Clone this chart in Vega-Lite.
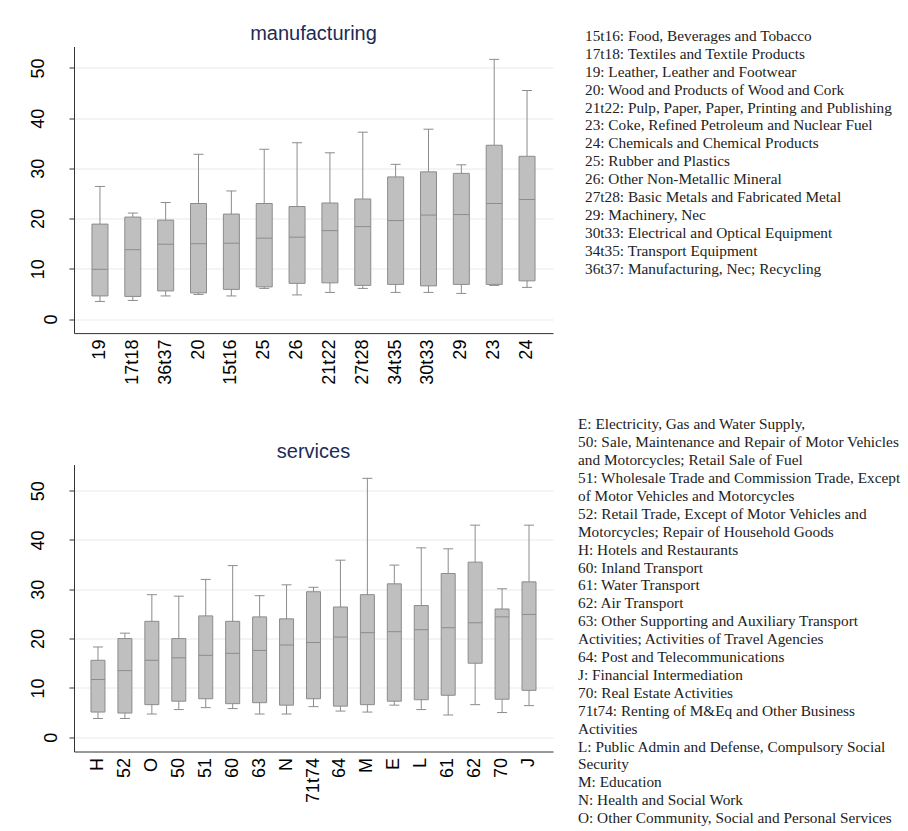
{
  "$schema": "https://vega.github.io/schema/vega-lite/v6.json",
  "background": "white",
  "padding": {"left": 28, "top": 23.5, "right": 0, "bottom": 0},
  "config": {
    "view": {"stroke": null},
    "font": "Liberation Sans",
    "axis": {"labelFont": "Liberation Sans", "labelColor": "#000000", "domainColor": "#333333", "tickColor": "#333333", "gridColor": "#e3ebee", "labelFontSize": 18},
    "axisY": {"labelAngle": -90, "tickSize": 5, "grid": true},
    "axisX": {"labelAngle": -90, "ticks": false, "labelPadding": 6, "grid": false}
  },
  "datasets": {
    "manu": [
      {"code": "19", "min": 3.5, "q1": 4.6, "median": 9.9, "q3": 18.9, "max": 26.4},
      {"code": "17t18", "min": 3.7, "q1": 4.5, "median": 13.8, "q3": 20.3, "max": 21.1},
      {"code": "36t37", "min": 4.6, "q1": 5.6, "median": 14.9, "q3": 19.7, "max": 23.2},
      {"code": "20", "min": 4.9, "q1": 5.2, "median": 15.0, "q3": 23.0, "max": 32.8},
      {"code": "15t16", "min": 4.6, "q1": 5.9, "median": 15.1, "q3": 20.9, "max": 25.5},
      {"code": "25", "min": 6.1, "q1": 6.4, "median": 16.1, "q3": 23.0, "max": 33.8},
      {"code": "26", "min": 4.8, "q1": 7.1, "median": 16.3, "q3": 22.4, "max": 35.1},
      {"code": "21t22", "min": 5.3, "q1": 7.2, "median": 17.6, "q3": 23.1, "max": 33.1},
      {"code": "27t28", "min": 6.1, "q1": 6.7, "median": 18.4, "q3": 23.9, "max": 37.2},
      {"code": "34t35", "min": 5.3, "q1": 6.9, "median": 19.6, "q3": 28.3, "max": 30.8},
      {"code": "30t33", "min": 5.3, "q1": 6.6, "median": 20.7, "q3": 29.3, "max": 37.8},
      {"code": "29", "min": 5.1, "q1": 6.9, "median": 20.8, "q3": 29.0, "max": 30.7},
      {"code": "23", "min": 6.7, "q1": 6.9, "median": 23.0, "q3": 34.6, "max": 51.7},
      {"code": "24", "min": 6.3, "q1": 7.6, "median": 23.8, "q3": 32.4, "max": 45.5}
    ],
    "serv": [
      {"code": "H", "min": 3.8, "q1": 5.1, "median": 11.7, "q3": 15.6, "max": 18.3},
      {"code": "52", "min": 3.8, "q1": 4.9, "median": 13.5, "q3": 20.0, "max": 21.1},
      {"code": "O", "min": 4.7, "q1": 6.6, "median": 15.6, "q3": 23.5, "max": 28.9},
      {"code": "50", "min": 5.6, "q1": 7.3, "median": 16.1, "q3": 20.0, "max": 28.6},
      {"code": "51", "min": 6.0, "q1": 7.8, "median": 16.6, "q3": 24.6, "max": 32.0},
      {"code": "60", "min": 5.8, "q1": 6.8, "median": 17.0, "q3": 23.5, "max": 34.8},
      {"code": "63", "min": 4.7, "q1": 7.0, "median": 17.6, "q3": 24.4, "max": 28.7},
      {"code": "N", "min": 4.7, "q1": 6.5, "median": 18.7, "q3": 24.0, "max": 30.9},
      {"code": "71t74", "min": 6.2, "q1": 7.8, "median": 19.2, "q3": 29.5, "max": 30.4},
      {"code": "64", "min": 5.3, "q1": 6.3, "median": 20.3, "q3": 26.4, "max": 35.9},
      {"code": "M", "min": 5.1, "q1": 6.6, "median": 21.2, "q3": 28.9, "max": 52.5},
      {"code": "E", "min": 6.5, "q1": 7.3, "median": 21.4, "q3": 31.1, "max": 34.9},
      {"code": "L", "min": 5.6, "q1": 7.6, "median": 21.8, "q3": 26.7, "max": 38.4},
      {"code": "61", "min": 4.5, "q1": 8.5, "median": 22.2, "q3": 33.2, "max": 38.2},
      {"code": "62", "min": 6.6, "q1": 15.0, "median": 23.2, "q3": 35.5, "max": 43.0},
      {"code": "70", "min": 5.0, "q1": 7.7, "median": 24.4, "q3": 26.0, "max": 30.1},
      {"code": "J", "min": 6.4, "q1": 9.5, "median": 24.9, "q3": 31.5, "max": 43.0}
    ],
    "manuText": [
      {"line": 1, "label": "15t16: Food, Beverages and Tobacco"},
      {"line": 2, "label": "17t18: Textiles and Textile Products"},
      {"line": 3, "label": "19: Leather, Leather and Footwear"},
      {"line": 4, "label": "20: Wood and Products of Wood and Cork"},
      {"line": 5, "label": "21t22: Pulp, Paper, Paper, Printing and Publishing"},
      {"line": 6, "label": "23: Coke, Refined Petroleum and Nuclear Fuel"},
      {"line": 7, "label": "24: Chemicals and Chemical Products"},
      {"line": 8, "label": "25: Rubber and Plastics"},
      {"line": 9, "label": "26: Other Non-Metallic Mineral"},
      {"line": 10, "label": "27t28: Basic Metals and Fabricated Metal"},
      {"line": 11, "label": "29: Machinery, Nec"},
      {"line": 12, "label": "30t33: Electrical and Optical Equipment"},
      {"line": 13, "label": "34t35: Transport Equipment"},
      {"line": 14, "label": "36t37: Manufacturing, Nec; Recycling"}
    ],
    "servText": [
      {"line": 1, "label": "E: Electricity, Gas and Water Supply,"},
      {"line": 2, "label": "50: Sale, Maintenance and Repair of Motor Vehicles"},
      {"line": 3, "label": "and Motorcycles; Retail Sale of Fuel"},
      {"line": 4, "label": "51: Wholesale Trade and Commission Trade, Except"},
      {"line": 5, "label": "of Motor Vehicles and Motorcycles"},
      {"line": 6, "label": "52: Retail Trade, Except of Motor Vehicles and"},
      {"line": 7, "label": "Motorcycles; Repair of Household Goods"},
      {"line": 8, "label": "H: Hotels and Restaurants"},
      {"line": 9, "label": "60: Inland Transport"},
      {"line": 10, "label": "61: Water Transport"},
      {"line": 11, "label": "62: Air Transport"},
      {"line": 12, "label": "63: Other Supporting and Auxiliary Transport"},
      {"line": 13, "label": "Activities; Activities of Travel Agencies"},
      {"line": 14, "label": "64: Post and Telecommunications"},
      {"line": 15, "label": "\u00a0J: Financial Intermediation"},
      {"line": 16, "label": "70: Real Estate Activities"},
      {"line": 17, "label": "71t74: Renting of M&Eq and Other Business"},
      {"line": 18, "label": "Activities"},
      {"line": 19, "label": "\u00a0L: Public Admin and Defense, Compulsory Social"},
      {"line": 20, "label": "Security"},
      {"line": 21, "label": "\u00a0M: Education"},
      {"line": 22, "label": "\u00a0N: Health and Social Work"},
      {"line": 23, "label": "\u00a0O: Other Community, Social and Personal Services"}
    ]
  },
  "hconcat": [
    {
      "spacing": 57,
      "vconcat": [
        {
          "width": 479,
          "height": 286.6,
          "title": {"text": "manufacturing", "fontSize": 20, "fontWeight": "normal", "color": "#1c2b56", "font": "Liberation Sans", "frame": "group", "offset": 3},
          "data": {"name": "manu"},
          "encoding": {
            "x": {"field": "code", "type": "nominal", "sort": null, "title": null, "scale": {"paddingInner": 0, "paddingOuter": 0.29}}
          },
          "layer": [
            {"mark": {"type": "rule", "color": "#8c8c8c", "strokeWidth": 1},
             "encoding": {
               "y": {"field": "min", "type": "quantitative", "title": null,
                     "scale": {"domain": [-2.8, 54.26], "nice": false, "zero": false},
                     "axis": {"values": [0, 10, 20, 30, 40, 50], "labelPadding": {"condition": {"test": "datum.value === 0", "value": 9}, "value": 22}}},
               "y2": {"field": "max"}}},
            {"mark": {"type": "tick", "color": "#8c8c8c", "size": 10, "thickness": 1, "opacity": 1},
             "encoding": {"y": {"field": "min", "type": "quantitative", "title": null}}},
            {"mark": {"type": "tick", "color": "#8c8c8c", "size": 10, "thickness": 1, "opacity": 1},
             "encoding": {"y": {"field": "max", "type": "quantitative", "title": null}}},
            {"mark": {"type": "bar", "size": 16, "fill": "#bfbfbf", "stroke": "#8c8c8c", "strokeWidth": 1},
             "encoding": {"y": {"field": "q1", "type": "quantitative", "title": null}, "y2": {"field": "q3"}}},
            {"mark": {"type": "tick", "color": "#8c8c8c", "size": 16, "thickness": 1, "opacity": 1},
             "encoding": {"y": {"field": "median", "type": "quantitative", "title": null}}}
          ]
        },
        {
          "width": 479,
          "height": 287,
          "title": {"text": "services", "fontSize": 20, "fontWeight": "normal", "color": "#1c2b56", "font": "Liberation Sans", "frame": "group", "offset": 3},
          "data": {"name": "serv"},
          "encoding": {
            "x": {"field": "code", "type": "nominal", "sort": null, "title": null, "scale": {"paddingInner": 0, "paddingOuter": 0.39}}
          },
          "layer": [
            {"mark": {"type": "rule", "color": "#8c8c8c", "strokeWidth": 1},
             "encoding": {
               "y": {"field": "min", "type": "quantitative", "title": null,
                     "scale": {"domain": [-2.9, 55.3], "nice": false, "zero": false},
                     "axis": {"values": [0, 10, 20, 30, 40, 50], "labelPadding": {"condition": {"test": "datum.value === 0", "value": 9}, "value": 22}}},
               "y2": {"field": "max"}}},
            {"mark": {"type": "tick", "color": "#8c8c8c", "size": 10, "thickness": 1, "opacity": 1},
             "encoding": {"y": {"field": "min", "type": "quantitative", "title": null}}},
            {"mark": {"type": "tick", "color": "#8c8c8c", "size": 10, "thickness": 1, "opacity": 1},
             "encoding": {"y": {"field": "max", "type": "quantitative", "title": null}}},
            {"mark": {"type": "bar", "size": 14, "fill": "#bfbfbf", "stroke": "#8c8c8c", "strokeWidth": 1},
             "encoding": {"y": {"field": "q1", "type": "quantitative", "title": null}, "y2": {"field": "q3"}}},
            {"mark": {"type": "tick", "color": "#8c8c8c", "size": 14, "thickness": 1, "opacity": 1},
             "encoding": {"y": {"field": "median", "type": "quantitative", "title": null}}}
          ]
        }
      ]
    },
    {
      "spacing": 117.9,
      "vconcat": [
        {
          "width": 320,
          "height": {"step": 17.9},
          "data": {"name": "manuText"},
          "mark": {"type": "text", "align": "left", "baseline": "middle", "font": "Liberation Serif", "fontSize": 15.3, "color": "#222222", "dx": 7, "dy": -19.5},
          "encoding": {
            "y": {"field": "line", "type": "ordinal", "axis": null, "scale": {"padding": 0.5}},
            "x": {"datum": 0, "type": "quantitative", "scale": {"domain": [0, 1]}, "axis": null},
            "text": {"field": "label"}
          }
        },
        {
          "width": 320,
          "height": {"step": 17.9},
          "data": {"name": "servText"},
          "mark": {"type": "text", "align": "left", "baseline": "middle", "font": "Liberation Serif", "fontSize": 15.3, "color": "#222222"},
          "encoding": {
            "y": {"field": "line", "type": "ordinal", "axis": null, "scale": {"padding": 0.5}},
            "x": {"datum": 0, "type": "quantitative", "scale": {"domain": [0, 1]}, "axis": null},
            "text": {"field": "label"}
          }
        }
      ]
    }
  ],
  "spacing": 25
}
